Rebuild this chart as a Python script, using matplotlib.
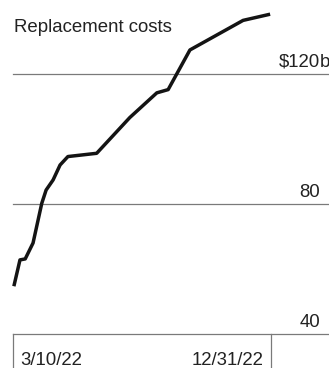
import pandas as pd
import matplotlib.pyplot as plt
from matplotlib.transforms import blended_transform_factory

# replacement cost estimate, billions of dollars
dates = ["2022-03-11", "2022-03-18", "2022-03-24", "2022-04-02", "2022-04-12",
         "2022-04-17", "2022-04-25", "2022-05-03", "2022-05-12", "2022-06-14",
         "2022-07-22", "2022-08-22", "2022-09-04", "2022-09-29", "2022-11-29",
         "2022-12-30"]
costs = [54.7, 62.8, 63.1, 68.0, 80.2, 84.3, 87.4, 92.0, 94.6, 95.6,
         106.6, 114.2, 115.2, 127.4, 136.5, 138.4]
y_ticks = [40, 80, 120]
x_ticks = ["2022-03-10", "2022-12-31"]
x_labels = ["3/10/22", "12/31/22"]

plt.rcParams['font.family'] = ['Liberation Sans', 'DejaVu Sans']
FS = 13.4
TXT = "#222222"
GRID = "#7a7a7a"

W, H = 329, 368
fig = plt.figure(figsize=(W / 100, H / 100), dpi=100)
# axes box: baseline (40) at 334 px from the top, 3.25 px per unit
ax = fig.add_axes([13 / W, 34 / H, 316 / W, 334 / H])
ax.set_ylim(40, 40 + 334 / 3.25)
start = pd.Timestamp(x_ticks[0])
ax.set_xlim(start, start + pd.Timedelta(days=316 * 296 / 258))

t = pd.to_datetime(dates)
ax.plot(t, costs, color="#141414", lw=2.5, solid_capstyle="butt",
        solid_joinstyle="round", zorder=3, clip_on=False)

for v in y_ticks:
    ax.axhline(v, color=GRID, lw=0.9, zorder=1, clip_on=False)

for s in ax.spines.values():
    s.set_visible(False)
ax.set_xticks([])
ax.set_yticks([])

# value labels on the right, sitting above each gridline
tr_y = blended_transform_factory(fig.transFigure, ax.transData)
for v in y_ticks:
    yb = v + 7 / 3.25
    ax.text(320 / W, yb, "$120" if v == 120 else str(v), transform=tr_y,
            ha="right", va="baseline", fontsize=FS, color=TXT)
    if v == 120:
        ax.text(320 / W, yb, "b", transform=tr_y, ha="left",
                va="baseline", fontsize=FS, color=TXT)

# date ticks hanging below the baseline
tr_x = blended_transform_factory(ax.transData, fig.transFigure)
for d, lab, ha in zip(x_ticks, x_labels, ["left", "right"]):
    xd = pd.Timestamp(d)
    ax.plot([xd, xd], [0, 34 / H], transform=tr_x, color=GRID,
            lw=0.9, clip_on=False)
    off = pd.Timedelta(days=8) if ha == "left" else -pd.Timedelta(days=9)
    ax.text(xd + off, 3 / H, lab, transform=tr_x, ha=ha, va="baseline",
            fontsize=FS, color=TXT)

fig.text(14 / W, 1 - 32 / H, "Replacement costs", ha="left",
         va="baseline", fontsize=FS, color=TXT)

fig.savefig("out.png", dpi=100)
